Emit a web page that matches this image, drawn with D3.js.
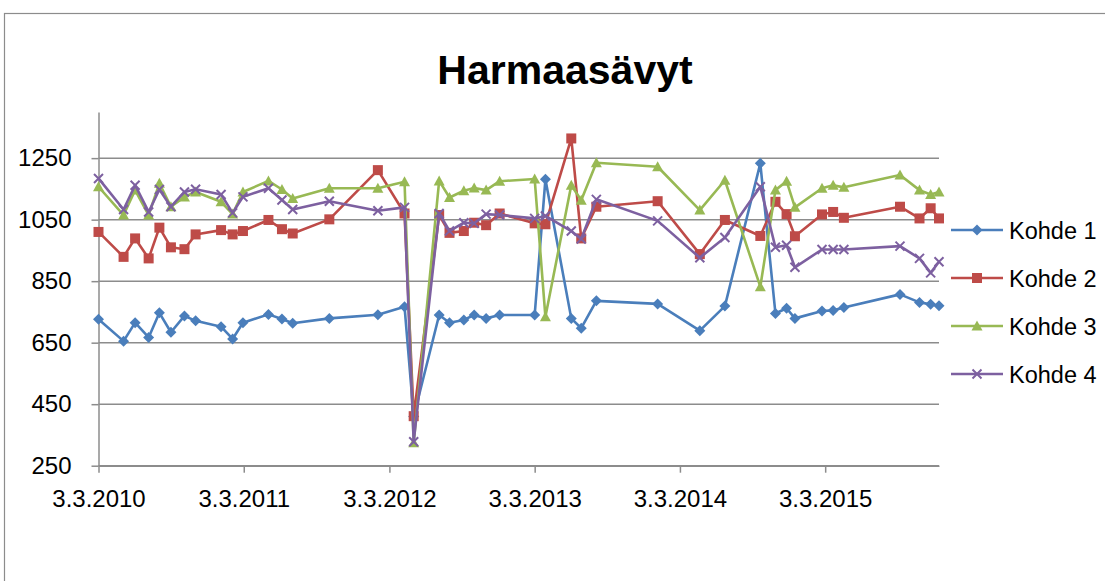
<!DOCTYPE html>
<html>
<head>
<meta charset="utf-8">
<script src="https://cdn.jsdelivr.net/npm/d3@7"></script>
<style>
  body { margin: 0; background: #fff; }
  svg { display: block; font-family: "Liberation Sans", Arial, sans-serif; }
</style>
</head>
<body>
<svg id="chart" width="1105" height="581"></svg>
<script>
const dates = [
  "2010-03-03","2010-05-05","2010-06-03","2010-07-07","2010-08-03","2010-09-01",
  "2010-10-05","2010-11-02","2011-01-05","2011-02-03","2011-03-01","2011-05-04",
  "2011-06-07","2011-07-04","2011-10-04","2012-02-03","2012-04-10","2012-05-03",
  "2012-07-06","2012-08-01","2012-09-06","2012-10-02","2012-11-01","2012-12-05",
  "2013-03-03","2013-03-30","2013-06-03","2013-06-28","2013-08-05","2014-01-06",
  "2014-04-22","2014-06-24","2014-09-21","2014-10-29","2014-11-26","2014-12-17",
  "2015-02-23","2015-03-23","2015-04-19","2015-09-07","2015-10-26","2015-11-23",
  "2015-12-14"
];

const kohde1 = [726,655,715,667,747,684,737,721,702,662,715,742,727,713,729,741,767,410,
  740,715,724,740,729,740,740,1181,729,697,786,776,689,769,1233,745,762,729,753,755,764,
  807,781,775,770];
const kohde2 = [1010,929,989,924,1024,960,954,1002,1016,1002,1013,1049,1019,1005,1051,1211,
  1070,411,1065,1007,1013,1040,1032,1070,1038,1035,1314,989,1092,1110,938,1049,997,1108,
  1068,996,1067,1075,1056,1092,1054,1087,1054];
const kohde3 = [1157,1065,1146,1065,1168,1092,1124,1140,1108,1068,1140,1176,1148,1119,1152,
  1152,1173,325,1176,1122,1144,1153,1146,1175,1182,734,1162,1113,1235,1222,1081,1178,832,
  1146,1175,1090,1152,1162,1155,1195,1146,1132,1140];
const kohde4 = [1184,1083,1162,1075,1148,1092,1140,1149,1132,1072,1124,1152,1114,1083,1110,
  1079,1090,328,1070,1013,1040,1038,1068,1065,1054,1062,1013,987,1116,1046,926,992,1157,
  960,967,895,953,953,953,964,924,877,913];

const seriesNames = ["Kohde 1","Kohde 2","Kohde 3","Kohde 4"];
const yTicks = [250,450,650,850,1050,1250];
const xTickLabels = ["3.3.2010","3.3.2011","3.3.2012","3.3.2013","3.3.2014","3.3.2015"];

const colors = ["#4a7ebb","#be4b48","#98b954","#7d60a0"];
const markers = ["diamond","square","triangle","cross"];

const parse = d3.timeParse("%Y-%m-%d");
const parseTick = d3.timeParse("%d.%m.%Y");
const xs = dates.map(parse);
const allSeries = [kohde1,kohde2,kohde3,kohde4];

const svg = d3.select("#chart");

// outer chart frame (runs off the picture on the right and bottom)
svg.append("rect")
  .attr("x", 4.5).attr("y", 13.5)
  .attr("width", 1200).attr("height", 700)
  .attr("fill", "none").attr("stroke", "#8c8c8c").attr("stroke-width", 1.2);

const x = d3.scaleTime()
  .domain([xs[0], xs[xs.length - 1]])
  .range([98.5, 939]);
const y = d3.scaleLinear()
  .domain([250, 1400])
  .range([465.7, 112]);

// gridlines
svg.append("g")
  .selectAll("line")
  .data(yTicks)
  .join("line")
  .attr("x1", x.range()[0]).attr("x2", x.range()[1])
  .attr("y1", d => y(d)).attr("y2", d => y(d))
  .attr("stroke", "#8c8c8c").attr("stroke-width", 1.5);

// y axis
const yAxis = svg.append("g")
  .attr("transform", `translate(${x.range()[0]},0)`)
  .call(d3.axisLeft(y).tickValues(yTicks).tickFormat(d3.format("d"))
    .tickSize(7).tickSizeOuter(0));
yAxis.select(".domain").attr("stroke", "#8c8c8c").attr("stroke-width", 1.5);
yAxis.selectAll(".tick line").attr("stroke", "#8c8c8c").attr("stroke-width", 1.5);
yAxis.selectAll("text").attr("font-size", 24).attr("fill", "#000")
  .attr("font-family", "'Liberation Sans', Arial, sans-serif").attr("x", -27);

// x axis
const xAxis = svg.append("g")
  .attr("transform", `translate(0,${y(250)})`)
  .call(d3.axisBottom(x)
    .tickValues(xTickLabels.map(parseTick))
    .tickFormat(d3.timeFormat("%-d.%-m.%Y"))
    .tickSize(7).tickSizeOuter(0).tickPadding(17));
xAxis.select(".domain").attr("stroke", "#8c8c8c").attr("stroke-width", 1.5);
xAxis.selectAll(".tick line").attr("stroke", "#8c8c8c").attr("stroke-width", 1.5);
xAxis.selectAll("text").attr("font-size", 24).attr("fill", "#000")
  .attr("font-family", "'Liberation Sans', Arial, sans-serif");

// marker drawing
function drawMarker(sel, type, color) {
  if (type === "diamond") {
    sel.append("path").attr("d", "M0,-5.5L5.5,0L0,5.5L-5.5,0Z").attr("fill", color);
  } else if (type === "square") {
    sel.append("rect").attr("x", -5).attr("y", -5).attr("width", 10).attr("height", 10)
      .attr("fill", color);
  } else if (type === "triangle") {
    sel.append("path").attr("d", "M0,-5.5L5.5,4.5L-5.5,4.5Z").attr("fill", color);
  } else {
    sel.append("path").attr("d", "M-4.5,-4.5L4.5,4.5M-4.5,4.5L4.5,-4.5")
      .attr("stroke", color).attr("stroke-width", 2).attr("fill", "none");
  }
}

const line = d3.line().x(d => x(d[0])).y(d => y(d[1]));

allSeries.forEach((vals, i) => {
  const pts = xs.map((d, j) => [d, vals[j]]);
  const g = svg.append("g");
  g.append("path")
    .datum(pts)
    .attr("d", line)
    .attr("fill", "none")
    .attr("stroke", colors[i])
    .attr("stroke-width", 2.6)
    .attr("stroke-linejoin", "round");
  g.selectAll("g.pt")
    .data(pts)
    .join("g")
    .attr("class", "pt")
    .attr("transform", d => `translate(${x(d[0])},${y(d[1])})`)
    .each(function() { drawMarker(d3.select(this), markers[i], colors[i]); });
});

// title
svg.append("text")
  .attr("x", 565).attr("y", 84)
  .attr("text-anchor", "middle")
  .attr("font-size", 41).attr("font-weight", "bold")
  .text("Harmaasävyt");

// legend
const legend = svg.append("g");
seriesNames.forEach((name, i) => {
  const ly = 230 + i * 48;
  const g = legend.append("g");
  g.append("line")
    .attr("x1", 951).attr("x2", 1003).attr("y1", ly).attr("y2", ly)
    .attr("stroke", colors[i]).attr("stroke-width", 2.6);
  const m = g.append("g").attr("transform", `translate(977,${ly})`);
  drawMarker(m, markers[i], colors[i]);
  g.append("text")
    .attr("x", 1009).attr("y", ly + 8.5)
    .attr("font-size", 23.5)
    .text(name);
});
</script>
</body>
</html>
